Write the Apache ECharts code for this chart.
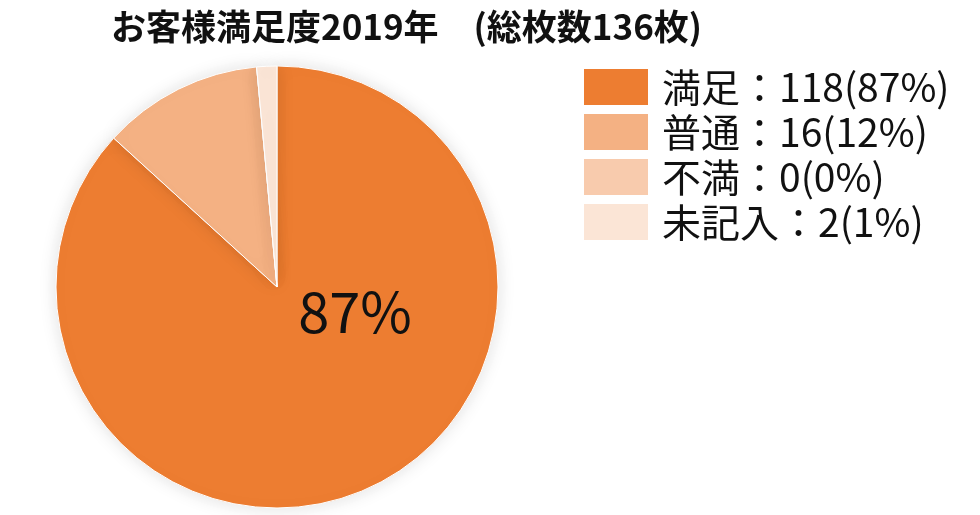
<!DOCTYPE html>
<html>
<head>
<meta charset="utf-8">
<script src="https://cdn.jsdelivr.net/npm/echarts@6/dist/echarts.min.js"></script>
<style>
  html, body { margin: 0; padding: 0; background: #fff; }
  #chart { width: 980px; height: 515px; }
</style>
</head>
<body>
<div id="chart"></div>
<script>
const titleText = 'お客様満足度2019年　(総枚数136枚)'
const categories = ['満足', '普通', '不満', '未記入']
const counts = [118, 16, 0, 2]
const colors = ['#ED7D31', '#F4B183', '#F8CBAD', '#FBE5D6']

const total = counts.reduce((a, b) => a + b, 0)
const pct = v => Math.round(v / total * 100)

const chart = echarts.init(document.getElementById('chart'))

const data = categories.map((name, i) => {
    const item = { name: name, value: counts[i], itemStyle: { color: colors[i] } }
    if (i === 0) {
        // only the big slice carries a label, drawn right of the centre
        item.label = {
            show: true,
            position: 'center',
            offset: [78, 25],
            formatter: p => pct(p.value) + '%',
            fontSize: 56,
            color: '#111',
            fontFamily: 'Noto Sans CJK JP'
        }
    }
    return item
})

const options = {
    backgroundColor: '#fff',
    animation: false,
    title: {
        text: titleText,
        left: 111,
        top: 9,
        padding: 0,
        textStyle: {
            fontSize: 35,
            fontWeight: 'bold',
            color: '#111',
            fontFamily: 'Noto Sans CJK JP'
        }
    },
    legend: {
        orient: 'vertical',
        left: 582,
        top: 67,
        padding: 0,
        itemWidth: 66,
        itemHeight: 38,
        itemGap: 5,
        icon: 'rect',
        data: categories,
        formatter: name => {
            const v = counts[categories.indexOf(name)]
            return name + '：' + v + '(' + pct(v) + '%)'
        },
        textStyle: {
            fontSize: 39,
            lineHeight: 38,
            color: '#111',
            padding: [0, 0, 0, 8],
            fontFamily: 'Noto Sans CJK JP'
        }
    },
    series: [{
        type: 'pie',
        center: [277, 287],
        radius: 221,
        startAngle: 90,
        clockwise: true,
        stillShowZeroSum: true,
        minAngle: 0,
        label: { show: false },
        labelLine: { show: false },
        emphasis: { disabled: true },
        itemStyle: {
            borderColor: '#fff',
            borderWidth: 1,
            shadowBlur: 18,
            shadowColor: 'rgba(0, 0, 0, 0.12)'
        },
        data: data
    }]
}

chart.setOption(options)
</script>
</body>
</html>
